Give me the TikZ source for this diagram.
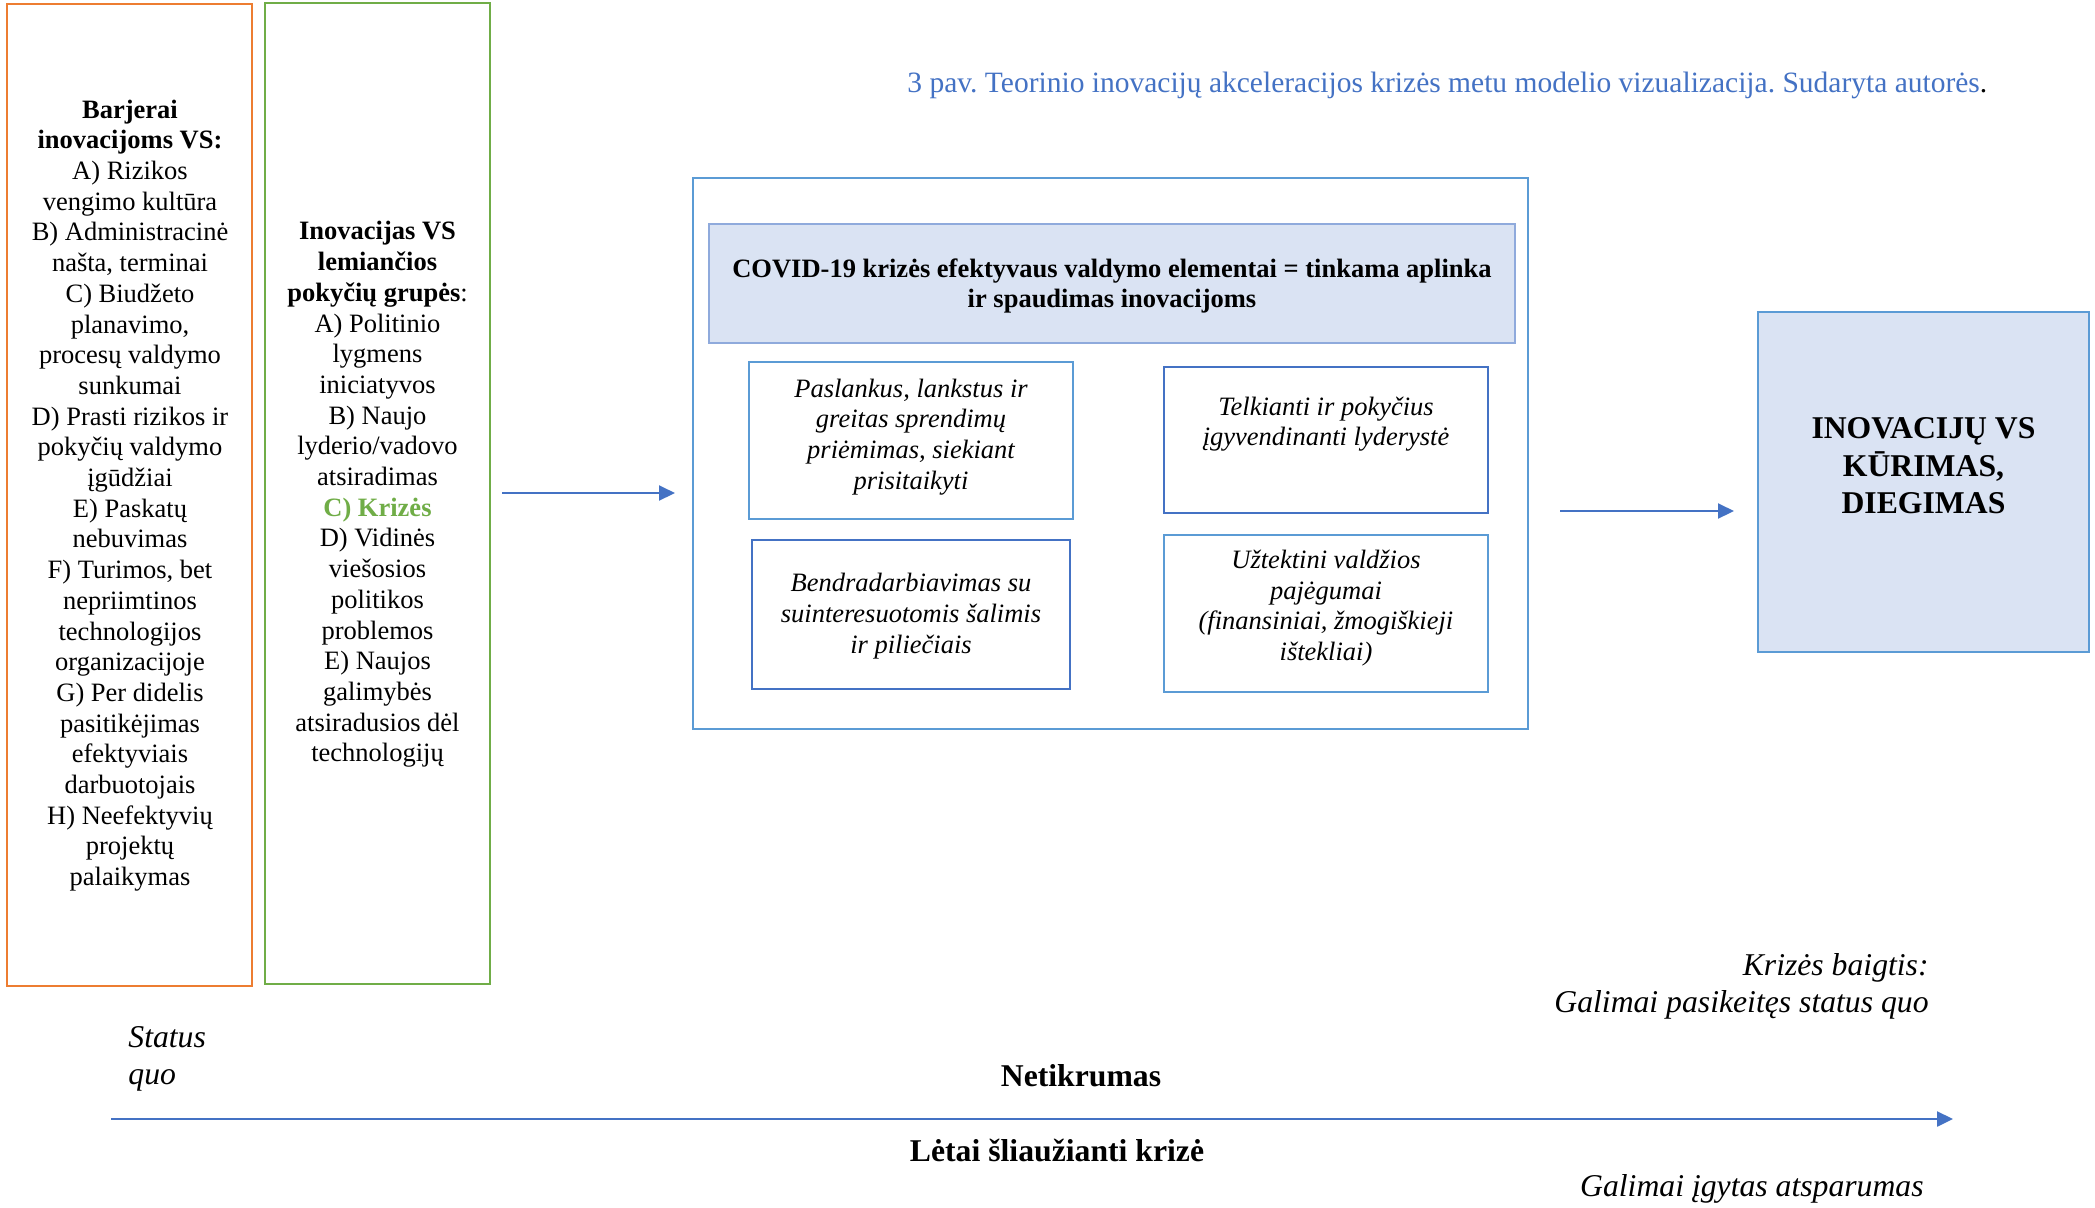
\documentclass[tikz,border=0pt]{standalone}
\usepackage{fontspec}
\setmainfont{Liberation Serif}
\usetikzlibrary{arrows.meta}
\definecolor{corange}{HTML}{ED7D31}
\definecolor{cgreen}{HTML}{70AD47}
\definecolor{cblue}{HTML}{4472C4}
\definecolor{clblue}{HTML}{5B9BD5}
\definecolor{cpale}{HTML}{8FAADC}
\definecolor{cfill}{HTML}{DAE3F3}
\tikzset{
  box/.style={draw, rectangle, inner sep=0pt, outer sep=0pt, line width=1.4pt},
  body/.style={font=\fontsize{13.25}{15.35}\selectfont, align=center, inner sep=0pt},
  itbody/.style={font=\fontsize{13.25}{15.35}\selectfont\itshape, align=center, inner sep=0pt},
  big/.style={font=\fontsize{15.85}{18.5}\selectfont, inner sep=0pt},
  arr/.style={draw=cblue, line width=1pt, -{Triangle[length=8pt,width=7.5pt]}},
}
\frenchspacing
\begin{document}
\begin{tikzpicture}[x=0.5pt,y=-0.5pt]
\useasboundingbox[fill=white] (0,0) rectangle (2095,1207);

% left columns
\node[box, draw=corange, minimum width=122.5pt, minimum height=491pt] (orange) at (129.5,495) {};
\node[body] (orangetxt) at (130,495.5) {\textbf{Barjerai}\\\textbf{inovacijoms VS:}\\A) Rizikos\\vengimo kultūra\\B) Administracinė\\našta, terminai\\C) Biudžeto\\planavimo,\\procesų valdymo\\sunkumai\\D) Prasti rizikos ir\\pokyčių valdymo\\įgūdžiai\\E) Paskatų\\nebuvimas\\F) Turimos, bet\\nepriimtinos\\technologijos\\organizacijoje\\G) Per didelis\\pasitikėjimas\\efektyviais\\darbuotojais\\H) Neefektyvių\\projektų\\palaikymas};

\node[box, draw=cgreen, minimum width=112.5pt, minimum height=490.5pt] (green) at (377.5,493.5) {};
\node[body] (greentxt) at (377.5,494.5) {\textbf{Inovacijas VS}\\\textbf{lemiančios}\\\textbf{pokyčių grupės}:\\A) Politinio\\lygmens\\iniciatyvos\\B) Naujo\\lyderio/vadovo\\atsiradimas\\\textcolor{cgreen}{\textbf{C) Krizės}}\\D) Vidinės\\viešosios\\politikos\\problemos\\E) Naujos\\galimybės\\atsiradusios dėl\\technologijų};

% caption
\node[inner sep=0pt, font=\fontsize{14.75}{17}\selectfont, anchor=west, text=cblue] (caption) at (907,85) {3 pav. Teorinio inovacijų akceleracijos krizės metu modelio vizualizacija. Sudaryta autorės\textcolor{black}{.}};

% central block
\node[box, draw=clblue, minimum width=417.5pt, minimum height=275.5pt] (outer) at (1110.5,453.5) {};
\node[box, draw=cpale, fill=cfill, line width=1pt, minimum width=403pt, minimum height=59.5pt] (header) at (1112,283.5) {};
\node[body, font=\fontsize{13.25}{15.35}\selectfont\bfseries] (headertxt) at (1112,286) {COVID-19 krizės efektyvaus valdymo elementai = tinkama aplinka\\ir spaudimas inovacijoms};

\node[box, draw=clblue, minimum width=162pt, minimum height=78.5pt] (tl) at (911,440.5) {};
\node[itbody] (tltxt) at (911,437) {Paslankus, lankstus ir\\greitas sprendimų\\priėmimas, siekiant\\prisitaikyti};

\node[box, draw=cblue, minimum width=162pt, minimum height=73pt] (tr) at (1326,440) {};
\node[itbody] (trtxt) at (1326,424) {Telkianti ir pokyčius\\įgyvendinanti lyderystė};

\node[box, draw=cblue, minimum width=159pt, minimum height=74.5pt] (bl) at (911,614.5) {};
\node[itbody] (bltxt) at (911,616) {Bendradarbiavimas su\\suinteresuotomis šalimis\\ir piliečiais};

\node[box, draw=clblue, minimum width=162pt, minimum height=78.5pt] (br) at (1326,613.5) {};
\node[itbody] (brtxt) at (1326,608) {Užtektini valdžios\\pajėgumai\\(finansiniai, žmogiškieji\\ištekliai)};

% right box
\node[box, draw=clblue, fill=cfill, line width=1pt, minimum width=165.5pt, minimum height=170pt] (right) at (1923.5,482) {};
\node[big, align=center, font=\fontsize{15.85}{18.75}\selectfont\bfseries] (righttxt) at (1923.5,466) {INOVACIJŲ VS\\KŪRIMAS,\\DIEGIMAS};

% arrows
\coordinate (a1s) at (502,493);
\coordinate (a1e) at (675,493);
\draw[arr] (a1s) -- (a1e);
\coordinate (a2s) at (1560,511);
\coordinate (a2e) at (1734,511);
\draw[arr] (a2s) -- (a2e);
\coordinate (tls) at (111,1119);
\coordinate (tle) at (1953,1119);
\draw[arr, line width=1.2pt] (tls) -- (tle);

% bottom texts
\node[big, anchor=west, align=left, font=\fontsize{15.85}{18.5}\selectfont\itshape] (statusquo) at (128,1059) {Status\\quo};
\node[big, font=\fontsize{15.85}{18.5}\selectfont\bfseries] (netikrumas) at (1081,1076) {Netikrumas};
\node[big, font=\fontsize{15.85}{18.5}\selectfont\bfseries] (letai) at (1057,1150) {Lėtai šliaužianti krizė};
\node[big, anchor=east, align=right, font=\fontsize{15.85}{18.5}\selectfont\itshape] (baigtis) at (1929,986.5) {Krizės baigtis:\\Galimai pasikeitęs status quo};
\node[big, anchor=east, font=\fontsize{15.85}{18.5}\selectfont\itshape] (atsparumas) at (1924,1189) {Galimai įgytas atsparumas};
\end{tikzpicture}
\end{document}
